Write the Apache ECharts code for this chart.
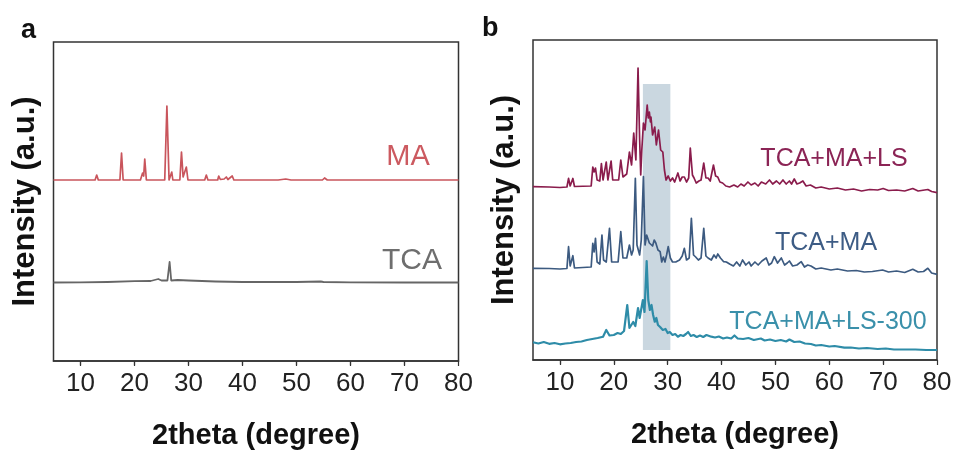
<!DOCTYPE html>
<html>
<head>
<meta charset="utf-8">
<script src="https://cdn.jsdelivr.net/npm/echarts@6/dist/echarts.min.js"></script>
<style>html,body{margin:0;padding:0;background:#fff;}#c{width:956px;height:450px;}</style>
</head>
<body>
<div id="c"></div>
<script>
// ---- data (2theta in degree, intensity in a.u. with vertical offsets as plotted) ----
var xTicks = [10, 20, 30, 40, 50, 60, 70, 80];
var seriesNames = ['MA', 'TCA', 'TCA+MA+LS', 'TCA+MA', 'TCA+MA+LS-300'];
var ma = [[5,181],[12.7,181],[13.0,186],[13.3,181],[14.5,181],[14.7,182.5],[14.9,181],[17.3,181],[17.6,208],[17.9,181],[21.1,181],[21.5,188],[21.7,185],[21.9,202],[22.2,181],[25.6,181],[26.0,255],[26.4,181],[26.7,183],[26.9,189],[27.1,181],[28.4,181],[28.7,209],[29.0,184],[29.6,194],[29.9,181],[33.0,181],[33.3,186],[33.6,181],[35.4,181],[35.6,185],[35.9,181.5],[36.6,182],[37.0,184],[37.3,181.5],[38.1,185],[38.4,181],[46.6,181],[46.9,183],[47.3,181.5],[48,182],[49,181],[52.2,181],[52.4,182],[52.7,181],[54.8,181],[55.2,183],[55.7,181],[80,181]];
var tca = [[5,78.5],[10,78.7],[15,79],[20,79.8],[23,80],[24.4,82],[25,80.5],[26.1,80.5],[26.5,99],[26.8,80.5],[28,81],[30,80.5],[35,79.5],[40,79],[50,79],[54.5,79.5],[55,79],[60,78.7],[70,78.5],[80,78.5]];
var tcaMaLs = [[5,173.3],[8,173],[10,172.5],[11.3,173],[11.6,181.7],[11.9,174],[12.1,174],[12.4,181.5],[12.7,173.5],[15.8,174],[16.1,193],[16.35,188],[16.6,192],[16.9,180],[17.4,179],[17.7,196.5],[18.0,180],[18.3,180],[18.6,198],[18.9,180],[19.2,179],[19.5,199],[19.8,180],[20.9,180],[21.3,200],[21.7,183],[22.4,186],[22.9,208],[23.3,195],[23.7,227],[24.1,200],[24.5,292],[24.8,220],[25.0,185],[25.2,210],[25.5,237],[25.8,230],[26.2,255],[26.4,242],[26.6,248],[26.8,238],[26.9,243],[27.2,225],[27.6,233],[27.9,215],[28.3,230],[28.7,210],[29.1,208],[29.4,190],[29.7,180],[30.1,184],[30.5,179],[30.9,182],[31.3,178],[31.9,187],[32.3,179],[32.7,183],[33.1,183],[33.5,178],[33.9,182],[34.2,212],[34.6,185],[34.9,182],[35.3,177],[35.8,179],[36.2,180],[36.7,197],[37.1,182],[37.5,182],[37.9,179],[38.5,195],[38.9,184],[39.3,183],[39.7,178],[40.2,177],[40.8,174],[41.5,173],[42.3,175],[43,173],[43.6,176],[44.2,174],[44.9,178],[45.5,175],[46.2,177],[46.8,174],[47.4,178],[48.2,176],[48.9,180],[49.5,176],[50.2,179],[50.8,176],[51.4,180],[52,176],[52.6,179],[53,176],[53.5,181],[54,176],[54.5,177],[55.1,179],[55.7,174],[56.5,175],[57.5,172],[58.5,173],[60,171],[61.5,172],[63,170],[64.5,171],[66,169],[67.5,170.5],[69,170],[70,171.5],[71,169.5],[72.5,170],[74,169],[75.5,171.5],[76.5,169],[78.3,170.5],[79,168.5],[80,167.3]];
var tcaMa = [[5,91.7],[8,91.5],[10,91],[11.3,91.5],[11.6,113.3],[11.9,94],[12.1,94],[12.4,104.3],[12.7,92],[15.8,93],[16.1,116.7],[16.35,108],[16.6,121.7],[16.9,98],[17.4,96],[17.8,125],[18.1,100],[18.6,98],[19.2,131.7],[19.6,98],[20.8,98],[21.3,128.3],[21.7,102],[22.4,102],[22.9,115],[23.3,105],[23.6,110],[24.0,181.7],[24.3,115],[24.8,105],[25.1,120],[25.5,183.3],[25.8,115],[26.1,125],[26.3,123],[26.6,117],[26.9,118.3],[27.2,114],[27.5,120],[27.8,117],[28.2,110],[28.6,108.3],[28.9,98],[29.2,103],[29.5,98],[29.8,105],[30.1,113.3],[30.5,102],[30.9,98],[31.5,98],[32.2,100],[32.7,104],[33.1,111.7],[33.5,100],[34.0,102],[34.4,141.7],[34.8,105],[35.2,103],[35.7,100],[36.2,102],[36.7,131.7],[37.1,104],[37.5,102],[38.1,100],[38.6,105],[39.0,102],[39.3,106],[39.8,102],[40.4,98.3],[40.9,98],[41.5,96],[42.2,94],[42.8,98],[43.4,94],[43.9,100],[44.5,95],[45.1,98],[45.5,94],[46.2,98],[46.8,95],[47.5,99],[48.3,102],[48.8,95],[49.3,97],[49.8,103.3],[50.4,97],[51.1,102],[51.7,95],[52.2,97],[52.6,99],[53.2,94],[54,95],[54.8,98.3],[55.4,93],[56,95],[56.6,94],[57.5,91],[58.5,92],[60.3,90],[61.5,91],[63.4,89],[65,89.5],[66.5,88],[68,88.5],[69.9,90],[71,88],[72.5,89],[74,87.5],[75.5,90.7],[76.5,88],[77.5,88.5],[78.3,91.7],[79,87],[80,85.7]];
var tcaMaLs300 = [[5,17.7],[6,16.5],[7,18],[8,16.2],[9,17],[10,15.7],[11,16.5],[12,17],[13,18],[14,18.5],[15,20],[16,21],[17,22],[18,23.3],[18.6,30],[19.2,24.5],[20,25],[20.7,27],[21.3,26],[21.9,29],[22.5,55],[22.9,32],[23.2,32],[23.6,38],[24.0,34],[24.5,52],[24.8,42],[25.1,43.3],[25.4,60],[25.7,48],[26.1,99],[26.4,60],[26.7,50],[27.0,55],[27.3,45],[27.6,38.3],[27.9,42],[28.2,35],[28.6,33],[29.1,30],[29.6,31],[30.0,27],[30.4,28],[30.9,25],[31.4,26],[31.9,23.3],[32.4,25],[32.9,24],[33.4,26],[33.8,28],[34.3,24],[34.8,25],[35.4,23],[36,24.5],[36.6,23],[37.2,25],[38.1,23.3],[38.8,22.5],[39.5,23.5],[40.3,21.5],[41,22.5],[41.8,21.5],[42.4,24.5],[43,21.5],[44,21],[45,22],[46,20],[47.3,21.5],[48,19.5],[49,20.5],[50,19],[51,20],[52,18.5],[52.6,20.5],[53.5,18],[54.5,18.5],[55.5,16.5],[56.6,16],[57.5,14.5],[58.5,15],[60,13.5],[61,14],[62.8,12.3],[64,12.5],[65.5,11.5],[67,12],[69,11],[70.5,11.5],[72,10.5],[74,10.5],[76,10.5],[78,10],[80,10]];
var highlightRange = [25.4, 30.5];   // shaded 2theta range
var highlightY = [10, 276];

var chart = echarts.init(document.getElementById('c'), null, {renderer: 'canvas'});
var FONT = '"Liberation Sans", Arial, sans-serif';

function xAx(gi) {
  return {
    type: 'value', gridIndex: gi, min: 5, max: 80, interval: 10,
    axisLine: {show: true, onZero: false, lineStyle: {color: '#333', width: 1.5}},
    axisTick: {show: true, length: 5, lineStyle: {color: '#333', width: 1.2},
      customValues: xTicks},
    minorTick: {show: true, splitNumber: 2, length: 4, lineStyle: {color: '#333', width: 1.2}},
    axisLabel: {fontFamily: FONT, fontSize: 26, color: '#222', margin: 10,
      customValues: xTicks},
    splitLine: {show: false},
    name: '2theta (degree)', nameLocation: 'middle', nameGap: 60,
    nameTextStyle: {fontFamily: FONT, fontSize: 29, fontWeight: 'bold', color: '#111'}
  };
}
function yAx(gi, max) {
  return {
    type: 'value', gridIndex: gi, min: 0, max: max,
    axisLine: {show: false}, axisTick: {show: false}, axisLabel: {show: false},
    splitLine: {show: false},
    name: 'Intensity (a.u.)', nameLocation: 'middle', nameRotate: 90, nameGap: 13,
    nameTextStyle: {fontFamily: FONT, fontSize: 31, fontWeight: 'bold', color: '#111'}
  };
}
function line(name, data, gi, color, w) {
  return {
    name: name, type: 'line', xAxisIndex: gi, yAxisIndex: gi, data: data,
    showSymbol: false, symbol: 'none', smooth: false, z: 3,
    lineStyle: {color: color, width: w, join: 'round'}
  };
}

var option = {
  backgroundColor: '#fff',
  animation: false,
  grid: [
    {left: 53.5, right: 497.5, top: 42, bottom: 89, show: true, borderColor: '#333', borderWidth: 1.5, backgroundColor: 'transparent', outerBoundsMode: 'none', containLabel: false},
    {left: 533, right: 19, top: 40, bottom: 90, show: true, borderColor: '#333', borderWidth: 1.5, backgroundColor: 'transparent', outerBoundsMode: 'none', containLabel: false}
  ],
  xAxis: [xAx(0), xAx(1)],
  yAxis: [yAx(0, 319), yAx(1, 320)],
  series: [
    line(seriesNames[0], ma, 0, '#c9555c', 1.7),
    line(seriesNames[1], tca, 0, '#666666', 1.8),
    {
      type: 'line', xAxisIndex: 1, yAxisIndex: 1, data: [], z: 1,
      markArea: {silent: true, itemStyle: {color: '#cad7e0'},
        data: [[{coord: [highlightRange[0], highlightY[0]]}, {coord: [highlightRange[1], highlightY[1]]}]]}
    },
    line(seriesNames[2], tcaMaLs, 1, '#8a1c4c', 1.7),
    line(seriesNames[3], tcaMa, 1, '#3c5a80', 1.7),
    line(seriesNames[4], tcaMaLs300, 1, '#2e8ca8', 2.2)
  ],
  graphic: [
    {type: 'text', left: 21, top: 17, style: {text: 'a', font: 'bold 27px ' + FONT, fill: '#111'}},
    {type: 'text', left: 482, top: 15, style: {text: 'b', font: 'bold 27px ' + FONT, fill: '#111'}},
    {type: 'text', x: 408, y: 157, style: {text: seriesNames[0], font: '29px ' + FONT, fill: '#cc5a60', align: 'center', verticalAlign: 'middle'}},
    {type: 'text', x: 412, y: 261, style: {text: seriesNames[1], font: '30px ' + FONT, fill: '#6e6e6e', align: 'center', verticalAlign: 'middle'}},
    {type: 'text', x: 834, y: 159, style: {text: seriesNames[2], font: '25px ' + FONT, fill: '#8b2455', align: 'center', verticalAlign: 'middle'}},
    {type: 'text', x: 826, y: 243, style: {text: seriesNames[3], font: '25px ' + FONT, fill: '#3d5c85', align: 'center', verticalAlign: 'middle'}},
    {type: 'text', x: 828, y: 322, style: {text: seriesNames[4], font: '25px ' + FONT, fill: '#3a90aa', align: 'center', verticalAlign: 'middle'}}
  ]
};
chart.setOption(option);
</script>
</body>
</html>
